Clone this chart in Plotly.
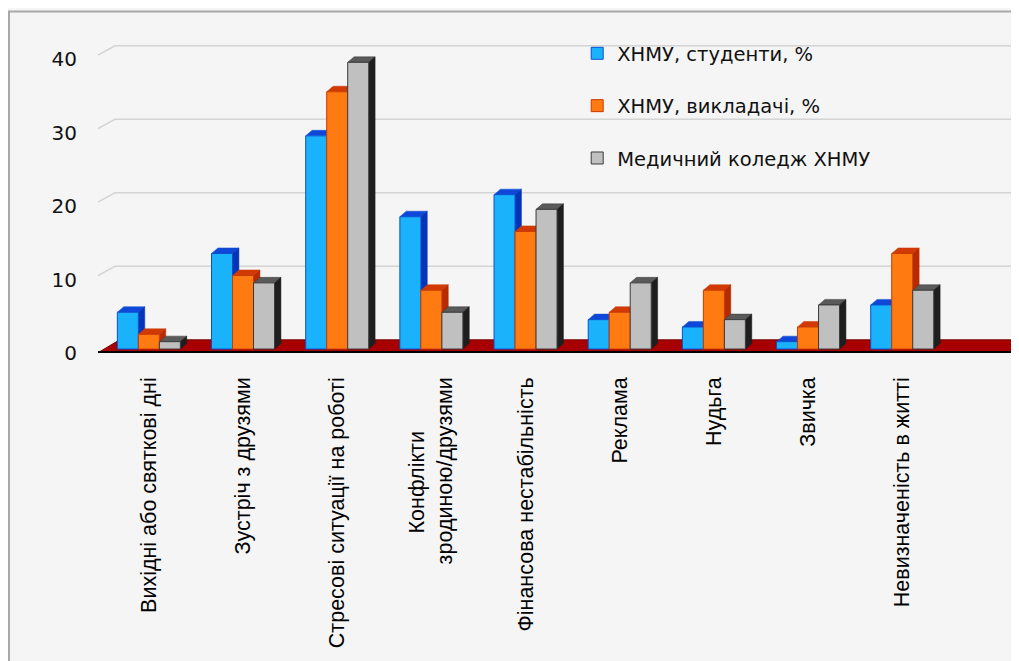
import plotly.graph_objects as go

categories = [
    "Вихідні або святкові дні",
    "Зустріч з друзями",
    "Стресові ситуації на роботі",
    "Конфлікти" + "\u00a0" * 9 + "<br>зродиною/друзями",
    "Фінансова нестабільність",
    "Реклама",
    "Нудьга",
    "Звичка",
    "Невизначеність в житті",
]
students = [5, 13, 29, 18, 21, 4, 3, 1, 6]
teachers = [2, 10, 35, 8, 16, 5, 8, 3, 13]
college = [1, 9, 39, 5, 19, 9, 4, 6, 8]
series_names = ["ХНМУ, студенти, %", "ХНМУ, викладачі, %", "Медичний коледж ХНМУ"]
y_ticks = [0, 10, 20, 30, 40]

front_colors = ["#1AB2FB", "#FF7B12", "#C0C0C0"]
edge_colors = ["#0A4FD0", "#C83A00", "#3A3A3A"]
top_colors = ["#0F48D8", "#D23A05", "#5A5A5A"]
side_colors = ["#0434B8", "#B82A00", "#1E1E1E"]

FW, FH = 1011, 653
W = 0.223
DX, DY = 0.068, 0.75
XR = [-0.54, 9.24]
YR = [-0.54, 44.76]
BACK = 1.25

fig = go.Figure()
xs = list(range(len(categories)))
all_series = [students, teachers, college]
shapes = []

# back-wall gridlines
for v in y_ticks[1:]:
    shapes.append(dict(type="path", xref="x", yref="y", layer="below",
                       path=f"M {XR[0]},{v} L {XR[0]+0.18},{v+BACK} L {XR[1]},{v+BACK}",
                       line=dict(color="#D4D4D4", width=1.5)))
# floor
shapes.append(dict(type="path", xref="x", yref="y", layer="below",
                   path=f"M {XR[0]},{-0.5} L {XR[0]+0.23},{1.25} L {XR[1]+0.1},{1.25} L {XR[1]+0.1},{-0.5} Z",
                   fillcolor="#A80000", line=dict(color="#7A0000", width=1)))
shapes.append(dict(type="line", xref="x", yref="y", layer="below",
                   x0=XR[0], x1=XR[1] + 0.1, y0=-0.45, y1=-0.45,
                   line=dict(color="#000000", width=2.5)))

for k, (vals, name) in enumerate(zip(all_series, series_names)):
    off = -1.5 * W + k * W
    fig.add_trace(go.Bar(
        x=xs, y=vals, name=name, width=W, offset=off,
        marker=dict(color=front_colors[k], line=dict(color=edge_colors[k], width=1)),
        legendgroup=f"g{k}",
    ))
    for i, v in zip(xs, vals):
        x0 = i + off
        x1 = x0 + W
        shapes.append(dict(type="path", xref="x", yref="y", layer="below",
                           path=f"M {x0},{v} L {x0+DX},{v+DY} L {x1+DX},{v+DY} L {x1},{v} Z",
                           fillcolor=top_colors[k], line=dict(color=edge_colors[k], width=0.5)))
        shapes.append(dict(type="path", xref="x", yref="y", layer="below",
                           path=f"M {x1},{v} L {x1+DX},{v+DY} L {x1+DX},{DY} L {x1},{0} Z",
                           fillcolor=side_colors[k], line=dict(color=side_colors[k], width=0.5)))

# frame
shapes.append(dict(type="path", xref="paper", yref="paper", layer="above",
                   path=f"M {1/FW},0 L {1/FW},{1-3.5/FH} L 1,{1-3.5/FH}",
                   line=dict(color="#A8A8A8", width=2)))

fig.update_layout(
    width=FW, height=FH,
    margin=dict(l=0, r=0, t=0, b=0),
    paper_bgcolor="#F5F5F5",
    plot_bgcolor="rgba(0,0,0,0)",
    barmode="overlay",
    shapes=shapes,
    font=dict(family="Liberation Sans, Arial, sans-serif", color="#000000"),
    showlegend=True,
    legend=dict(x=0.563, y=0.960, xanchor="left", yanchor="top",
                bgcolor="rgba(0,0,0,0)",
                font=dict(family="DejaVu Sans", size=19.5, color="#111111"),
                tracegroupgap=24, itemwidth=30),
    xaxis=dict(domain=[90/FW, 1], range=XR, tickmode="array", tickvals=xs,
               ticktext=categories, tickangle=-90, showgrid=False, zeroline=False,
               showline=False, ticks="",
               tickfont=dict(family="Liberation Sans", size=21.5, color="#000000"),
               ticklabelstandoff=19, automargin=False, fixedrange=True),
    yaxis=dict(domain=[(FH-345)/FH, (FH-12)/FH], range=YR, tickmode="array",
               tickvals=y_ticks, ticktext=[str(t) for t in y_ticks],
               showgrid=False, zeroline=False, showline=False, ticks="",
               tickfont=dict(family="DejaVu Sans", size=20, color="#111111"),
               ticklabelstandoff=20, ticklabelshift=4,
               automargin=False, fixedrange=True),
)

fig.write_html("out.html")
